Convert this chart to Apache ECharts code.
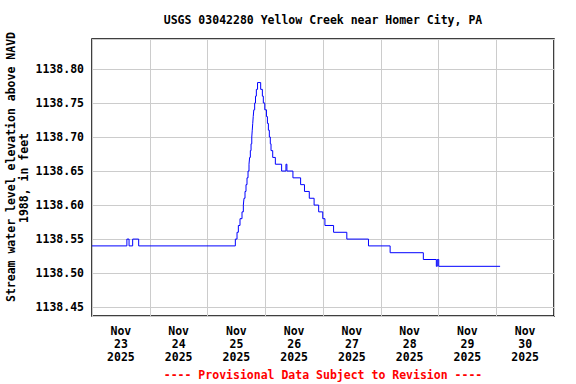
<!DOCTYPE html>
<html>
<head>
<meta charset="utf-8">
<script src="https://cdn.jsdelivr.net/npm/echarts@6/dist/echarts.min.js"></script>
<style>
html,body{margin:0;padding:0;background:#fff;}
#chart{width:576px;height:384px;}
</style>
</head>
<body>
<div id="chart"></div>
<script>
// Hours since Nov 23 2025 00:00 at which each gage-height value begins
var hoursSinceNov23 = [0, 14.5, 15.4, 16.9, 19.4, 59.57, 60.27, 60.82, 61.51, 62.34, 62.89, 63.17, 63.59, 64.0, 64.42, 64.84, 65.25, 65.5, 65.8, 66.1, 66.4, 66.6, 66.8, 67.0, 67.25, 67.6, 67.95, 68.3, 68.8, 70.1, 70.8, 71.2, 71.8, 72.5, 72.9, 73.3, 73.7, 74.1, 74.4, 75.1, 76.2, 78.8, 80.6, 81.0, 83.5, 86.7, 88.3, 90.3, 92.3, 94.2, 95.9, 96.8, 100.4, 105.9, 114.9, 123.9, 137.7, 143.1, 143.5, 144.1, 169.6];
var levelFeet = [1138.54, 1138.55, 1138.54, 1138.55, 1138.54, 1138.55, 1138.56, 1138.57, 1138.58, 1138.59, 1138.60, 1138.61, 1138.62, 1138.63, 1138.64, 1138.65, 1138.66, 1138.67, 1138.68, 1138.69, 1138.70, 1138.71, 1138.72, 1138.73, 1138.74, 1138.75, 1138.76, 1138.77, 1138.78, 1138.77, 1138.76, 1138.75, 1138.74, 1138.73, 1138.72, 1138.71, 1138.70, 1138.69, 1138.68, 1138.67, 1138.66, 1138.65, 1138.66, 1138.65, 1138.64, 1138.63, 1138.62, 1138.61, 1138.60, 1138.59, 1138.58, 1138.57, 1138.56, 1138.55, 1138.54, 1138.53, 1138.52, 1138.51, 1138.52, 1138.51, 1138.51];
var dayLabels = ['Nov\n23\n2025', 'Nov\n24\n2025', 'Nov\n25\n2025', 'Nov\n26\n2025', 'Nov\n27\n2025', 'Nov\n28\n2025', 'Nov\n29\n2025', 'Nov\n30\n2025'];
var titleText = 'USGS 03042280 Yellow Creek near Homer City, PA';
var yTitle1 = 'Stream water level elevation above NAVD';
var yTitle2 = '1988, in feet';
var footerText = '---- Provisional Data Subject to Revision ----';

var FONT = '"DejaVu Sans Mono", "Liberation Mono", monospace';
var seriesData = hoursSinceNov23.map(function (h, i) { return [h, levelFeet[i]]; });

var chart = echarts.init(document.getElementById('chart'), null, {renderer: 'svg'});
chart.setOption({
  animation: false,
  backgroundColor: '#ffffff',
  grid: {left: 92, top: 39, width: 462, height: 277, show: true, borderColor: '#000', borderWidth: 1.5, backgroundColor: 'transparent', containLabel: false},
  xAxis: [{
    type: 'value', min: 0, max: 192, interval: 24,
    axisLine: {show: false}, axisTick: {show: false}, axisLabel: {show: false},
    splitLine: {show: true, lineStyle: {color: '#cccccc', width: 1}}
  }, {
    type: 'category', data: dayLabels, boundaryGap: true, position: 'bottom',
    axisLine: {show: false}, axisTick: {show: false}, splitLine: {show: false},
    axisLabel: {show: true, interval: 0, margin: 8, color: '#000', fontFamily: FONT, fontWeight: 'bold', fontSize: 11.5, lineHeight: 13}
  }],
  yAxis: {
    type: 'value', min: 1138.437, max: 1138.844, splitNumber: 8,
    axisLine: {show: false}, axisTick: {show: false},
    splitLine: {show: true, lineStyle: {color: '#cccccc', width: 1}},
    axisLabel: {
      show: true, margin: 8, color: '#000', fontFamily: FONT, fontWeight: 'bold', fontSize: 11.5,
      showMinLabel: false, showMaxLabel: false,
      formatter: function (v) {
        var k = v * 20;
        return Math.abs(k - Math.round(k)) < 1e-6 ? v.toFixed(2) : '';
      }
    }
  },
  series: [{
    type: 'line', xAxisIndex: 0, yAxisIndex: 0, step: 'end', data: seriesData,
    showSymbol: false, lineStyle: {color: '#0000ff', width: 1}, z: 3
  }],
  graphic: [
    {type: 'text', x: 323, y: 20, style: {text: titleText, fill: '#000', font: 'bold 11.5px ' + FONT, align: 'center', verticalAlign: 'middle'}},
    {type: 'text', x: 11, y: 167, rotation: Math.PI / 2, style: {text: yTitle1, fill: '#000', font: 'bold 11.5px ' + FONT, align: 'center', verticalAlign: 'middle'}},
    {type: 'text', x: 24, y: 178, rotation: Math.PI / 2, style: {text: yTitle2, fill: '#000', font: 'bold 11.5px ' + FONT, align: 'center', verticalAlign: 'middle'}},
    {type: 'text', x: 323, y: 375, style: {text: footerText, fill: '#ff0000', font: 'bold 11.5px ' + FONT, align: 'center', verticalAlign: 'middle'}}
  ]
});
</script>
</body>
</html>
